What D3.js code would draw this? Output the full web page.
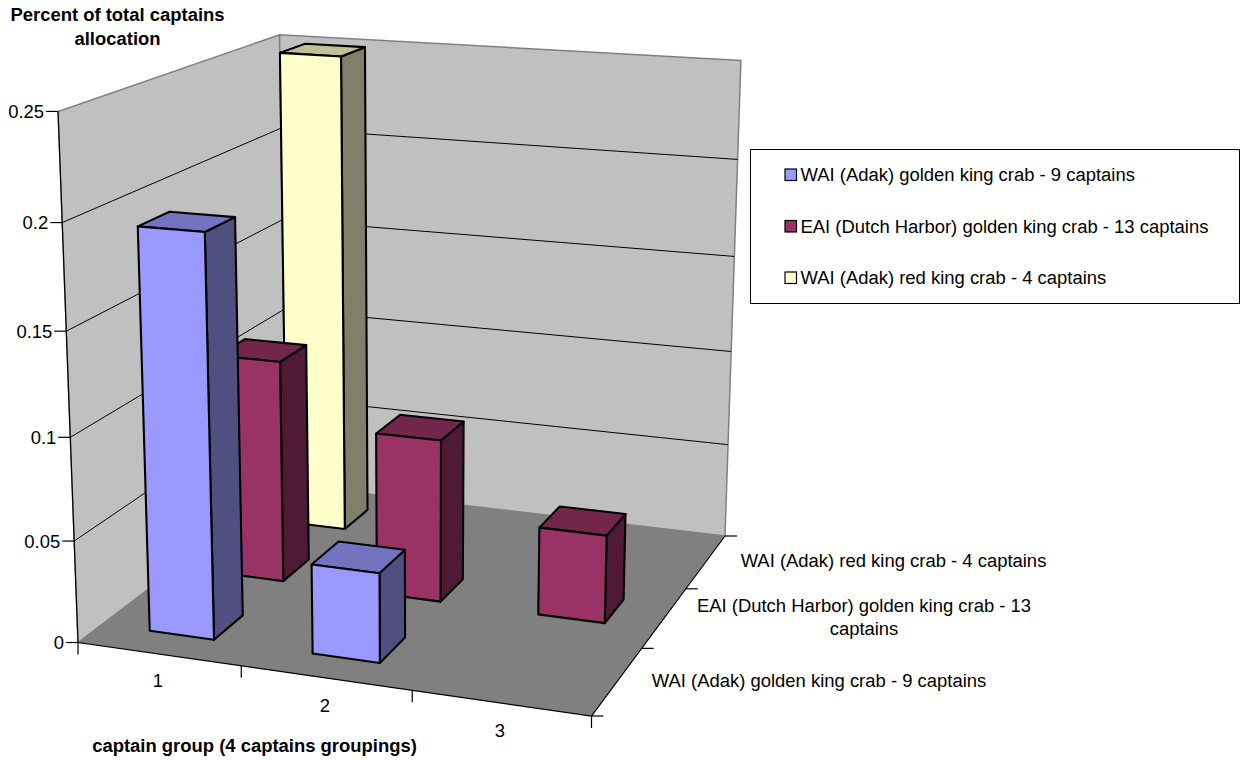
<!DOCTYPE html>
<html>
<head>
<meta charset="utf-8">
<script src="https://cdn.jsdelivr.net/npm/d3@7"></script>
<style>
html,body{margin:0;padding:0;background:#fff}
svg{display:block}
text{font-family:"Liberation Sans",Arial,sans-serif;font-size:18.45px;fill:#000}
</style>
</head>
<body>
<svg id="chart" width="1243" height="761"></svg>
<script>
// Chart content
const categories = ["1", "2", "3"];
const seriesNames = [
  "WAI (Adak) golden king crab - 9 captains",
  "EAI (Dutch Harbor) golden king crab - 13 captains",
  "WAI (Adak) red king crab - 4 captains"
];
const wiGolden = [0.195, 0.0435, 0];
const eiGolden = [0.113, 0.082, 0.044];
const wiRed = [0.25, 0, 0];
const seriesValues = [wiGolden, eiGolden, wiRed];
const valueTicks = [0, 0.05, 0.1, 0.15, 0.2, 0.25];
const frontColors = ["#9999FF", "#993366", "#FFFFCC"];
const sideColors = ["#4F4F80", "#4F1A35", "#80806A"];
const topColors = ["#7373BF", "#73264C", "#BFBF99"];

// Screen anchors of the chart box: floor corners, then the top of the walls
const floorAnchors = [[78, 642.5], [591.5, 716], [725, 536], [286, 484.5]];
const wallTopAnchors = [
  {u: 0, v: 0, p: [58, 111]},
  {u: 0, v: 1, p: [279.5, 35.5]},
  {u: 1, v: 1, p: [741, 60]}
];

function solve(A, b) {
  const n = b.length, M = A.map((r, i) => [...r, b[i]]);
  for (let c = 0; c < n; c++) {
    let piv = c;
    for (let r = c + 1; r < n; r++) if (Math.abs(M[r][c]) > Math.abs(M[piv][c])) piv = r;
    [M[c], M[piv]] = [M[piv], M[c]];
    for (let r = 0; r < n; r++) {
      if (r === c) continue;
      const f = M[r][c] / M[c][c];
      for (let k = c; k <= n; k++) M[r][k] -= f * M[c][k];
    }
  }
  return M.map((r, i) => r[n] / r[i]);
}

// Floor homography from the unit square
const unit = [[0, 0], [1, 0], [1, 1], [0, 1]];
const A8 = [], b8 = [];
unit.forEach(([u, v], i) => {
  const [x, y] = floorAnchors[i];
  A8.push([u, v, 1, 0, 0, 0, -u * x, -v * x]); b8.push(x);
  A8.push([0, 0, 0, u, v, 1, -u * y, -v * y]); b8.push(y);
});
const h = solve(A8, b8);

// Vertical column of the camera matrix, least squares on the wall-top anchors
const rows = [], rhs = [];
wallTopAnchors.forEach(({u, v, p: [x, y]}) => {
  const X = h[0] * u + h[1] * v + h[2], Y = h[3] * u + h[4] * v + h[5], W = h[6] * u + h[7] * v + 1;
  rows.push([1, 0, -x]); rhs.push(x * W - X);
  rows.push([0, 1, -y]); rhs.push(y * W - Y);
});
const AtA = [0, 1, 2].map(i => [0, 1, 2].map(j => d3.sum(rows, r => r[i] * r[j])));
const Atb = [0, 1, 2].map(i => d3.sum(rows, (r, k) => r[i] * rhs[k]));
const [wa, wb, wc] = solve(AtA, Atb);

function project(u, v, w) {
  const W = h[6] * u + h[7] * v + 1 + wc * w;
  return [(h[0] * u + h[1] * v + h[2] + wa * w) / W, (h[3] * u + h[4] * v + h[5] + wb * w) / W];
}

// Scales into the unit box
const xBand = d3.scaleBand().domain(categories).range([0, 1]).padding(0.6).paddingOuter(0.3);
const zBand = d3.scaleBand().domain(seriesNames).range([0, 1]).padding(0.6).paddingOuter(0.3);
const yScale = d3.scaleLinear().domain([0, 0.25]).range([0, 1]);

const svg = d3.select("#chart");
const line = d3.line();
const poly = pts => line(pts) + "Z";
const wallGrey = "#808080";

// Walls and floor
const walls = svg.append("g");
walls.append("path").attr("d", poly([project(0,0,0), project(0,1,0), project(0,1,1), project(0,0,1)]))
  .attr("fill", "#C0C0C0").attr("stroke", wallGrey).attr("stroke-width", 1.5);
walls.append("path").attr("d", poly([project(0,1,0), project(1,1,0), project(1,1,1), project(0,1,1)]))
  .attr("fill", "#C0C0C0").attr("stroke", wallGrey).attr("stroke-width", 1.5);
walls.append("path").attr("d", poly([project(0,0,0), project(1,0,0), project(1,1,0), project(0,1,0)]))
  .attr("fill", "#808080").attr("stroke", "none");

// Value gridlines across both walls
svg.append("g").selectAll("path")
  .data(valueTicks.filter(t => t > 0 && t < 0.25))
  .join("path")
  .attr("d", t => line([project(0,0,yScale(t)), project(0,1,yScale(t)), project(1,1,yScale(t))]))
  .attr("fill", "none").attr("stroke", "#000").attr("stroke-width", 1);

// Axis lines and ticks
const axes = svg.append("g").attr("stroke", "#000").attr("stroke-width", 1.2).attr("fill", "none");
axes.append("path").attr("d", line([project(0,0,1), project(0,0,0), project(1,0,0), project(1,1,0)]));
axes.selectAll(".vt").data(valueTicks).join("path").attr("class", "vt")
  .attr("d", t => { const [x, y] = project(0,0,yScale(t)); return line([[x - 12, y], [x, y]]); });
axes.selectAll(".ct").data(d3.range(categories.length + 1)).join("path").attr("class", "ct")
  .attr("d", i => { const [x, y] = project(i / categories.length, 0, 0); return line([[x, y], [x, y + 12]]); });
axes.selectAll(".st").data(d3.range(seriesNames.length + 1)).join("path").attr("class", "st")
  .attr("d", i => { const [x, y] = project(1, i / seriesNames.length, 0); return line([[x, y], [x + 12, y]]); });

// Bars, painted from the back row forward
const bars = [];
seriesNames.forEach((name, s) => {
  categories.forEach((cat, c) => {
    if (seriesValues[s][c] > 0) bars.push({name, cat, s, value: seriesValues[s][c]});
  });
});
bars.sort((a, b) => b.s - a.s);
const barG = svg.append("g").selectAll("g").data(bars).join("g")
  .attr("stroke", "#000").attr("stroke-width", 2.1).attr("stroke-linejoin", "round");
const faces = d => {
  const u0 = xBand(d.cat), u1 = u0 + xBand.bandwidth();
  const v0 = zBand(d.name), v1 = v0 + zBand.bandwidth();
  const w = yScale(d.value);
  return {
    side: [project(u1,v0,0), project(u1,v1,0), project(u1,v1,w), project(u1,v0,w)],
    top: [project(u0,v0,w), project(u1,v0,w), project(u1,v1,w), project(u0,v1,w)],
    front: [project(u0,v0,0), project(u1,v0,0), project(u1,v0,w), project(u0,v0,w)]
  };
};
barG.append("path").attr("d", d => poly(faces(d).side)).attr("fill", d => sideColors[d.s]);
barG.append("path").attr("d", d => poly(faces(d).top)).attr("fill", d => topColors[d.s]);
barG.append("path").attr("d", d => poly(faces(d).front)).attr("fill", d => frontColors[d.s]);

// Value tick labels
svg.append("g").selectAll("text").data(valueTicks).join("text")
  .attr("text-anchor", "end")
  .attr("x", t => project(0,0,yScale(t))[0] - 14)
  .attr("y", t => project(0,0,yScale(t))[1] + 6.5)
  .text(t => String(t));

// Category labels
const catLabelY = [687, 712, 737];
const catLabelX = [158, 325, 500];
svg.append("g").selectAll("text").data(categories).join("text")
  .attr("text-anchor", "middle")
  .attr("x", (d, i) => catLabelX[i]).attr("y", (d, i) => catLabelY[i]).text(d => d);

// Series labels along the depth axis
const depthLabels = [
  {lines: ["WAI (Adak) red king crab - 4 captains"], x: 893.5, y: 567},
  {lines: ["EAI (Dutch Harbor) golden king crab - 13", "captains"], x: 864, y: 612},
  {lines: ["WAI (Adak) golden king crab - 9 captains"], x: 819, y: 687}
];
depthLabels.forEach(l => l.lines.forEach((t, i) => {
  svg.append("text").attr("text-anchor", "middle").attr("x", l.x).attr("y", l.y + i * 23).text(t);
}));

// Axis titles
const bold = (t, x, y) => svg.append("text").attr("text-anchor", "middle").attr("font-weight", "bold")
  .attr("x", x).attr("y", y).text(t);
bold("Percent of total captains", 117.5, 21);
bold("allocation", 117.5, 45);
bold("captain group (4 captains groupings)", 254.5, 752);

// Legend
svg.append("rect").attr("x", 750.5).attr("y", 149.5).attr("width", 489).attr("height", 154)
  .attr("fill", "#fff").attr("stroke", "#000").attr("stroke-width", 1);
const legendY = d3.scalePoint().domain(seriesNames).range([175, 278]);
const legend = svg.append("g").selectAll("g").data(seriesNames).join("g");
legend.append("rect").attr("x", 785).attr("y", d => legendY(d) - 6).attr("width", 11.5).attr("height", 11.5)
  .attr("fill", (d, i) => frontColors[i]).attr("stroke", "#000").attr("stroke-width", 1.2);
legend.append("text").attr("x", 800.5).attr("y", d => legendY(d) + 6).text(d => d);
</script>
</body>
</html>
